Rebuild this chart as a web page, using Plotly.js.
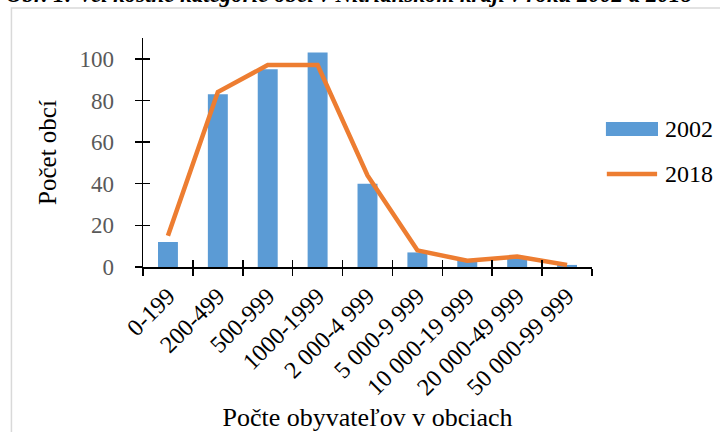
<!DOCTYPE html>
<html>
<head>
<meta charset="utf-8">
<script src="https://cdn.plot.ly/plotly-3.0.1.min.js"></script>
<style>html,body{margin:0;padding:0;background:#fff;}#chart{width:720px;height:432px;}</style>
</head>
<body>
<div id="chart"></div>
<script>
const categories = ["0-199","200-499","500-999","1000-1999","2 000-4 999","5 000-9 999","10 000-19 999","20 000-49 999","50 000-99 999"];
const values2002 = [12, 83, 95, 103, 40, 7, 3, 4, 1];
const values2018 = [15, 84, 97, 97, 44, 8, 3, 5, 1];
const seriesNames = ["2002", "2018"];
const chartTitle = "Obr. 1: Veľkostné kategórie obcí v Nitrianskom kraji v roku 2002 a 2018";
const xTitle = "Počte obyvateľov v obciach";
const yTitle = "Počet obcí";

const FONT = "Liberation Serif";
const BLUE = "#5B9BD5";
const ORANGE = "#ED7D31";

const traces = [
  {type: "bar", name: seriesNames[0], x: categories, y: values2002, marker: {color: BLUE}, width: 0.4, showlegend: false, hoverinfo: "skip"},
  {type: "scatter", mode: "lines", name: seriesNames[1], x: categories, y: values2018, line: {color: ORANGE, width: 4.5}, showlegend: false, hoverinfo: "skip"},
  {type: "scatter", mode: "none", x: categories, y: values2018, xaxis: "x2", yaxis: "y2", showlegend: false, hoverinfo: "skip"}
];

const layout = {
  width: 720, height: 432,
  margin: {l: 143, r: 128, t: 38, b: 165},
  paper_bgcolor: "#fff", plot_bgcolor: "#fff",
  font: {family: FONT, color: "#000"},
  showlegend: false,
  xaxis: {
    type: "category", categoryarray: categories, range: [-0.5, 8.5],
    tickson: "boundaries", ticks: "outside", ticklen: 7, tickwidth: 1.5, tickcolor: "#000",
    showline: true, linecolor: "#000", linewidth: 1.5, showgrid: false, zeroline: false,
    tickangle: -45, ticklabelstandoff: 4, tickfont: {family: FONT, size: 24, color: "#000"},
    title: {text: xTitle, font: {family: FONT, size: 26, color: "#000"}, standoff: 14}
  },
  yaxis: {
    range: [0, 110], dtick: 20, tick0: 0,
    ticks: "outside", ticklen: 7, tickwidth: 1.5, tickcolor: "#000",
    showline: true, linecolor: "#000", linewidth: 1.5, showgrid: false, zeroline: false,
    ticklabelstandoff: 16, tickfont: {family: FONT, size: 23, color: "#595959"},
    title: {text: yTitle, font: {family: FONT, size: 25, color: "#000"}, standoff: 15}
  },
  xaxis2: {
    type: "category", categoryarray: categories, range: [-0.5, 8.5], overlaying: "x", anchor: "y2", side: "bottom",
    tickson: "boundaries", ticks: "inside", ticklen: 7, tickwidth: 1.5, tickcolor: "#000",
    showticklabels: false, showline: false, showgrid: false, zeroline: false
  },
  yaxis2: {
    range: [0, 110], dtick: 20, tick0: 0, overlaying: "y", anchor: "x2", side: "left",
    ticks: "inside", ticklen: 7, tickwidth: 1.5, tickcolor: "#000",
    showticklabels: false, showline: false, showgrid: false, zeroline: false
  },
  shapes: [
    {type: "rect", xref: "paper", yref: "paper", x0: -0.293, x1: 1.5, y0: -1, y1: 1.131, line: {color: "#D9D9D9", width: 1.5}, fillcolor: "rgba(0,0,0,0)", layer: "below"},
    {type: "rect", xref: "paper", yref: "paper", x0: 1.031, x1: 1.147, y0: 0.572, y1: 0.633, line: {width: 0}, fillcolor: BLUE},
    {type: "line", xref: "paper", yref: "paper", x0: 1.033, x1: 1.145, y0: 0.406, y1: 0.406, line: {color: ORANGE, width: 4.5}}
  ],
  annotations: [
    {text: "<b><i>" + chartTitle + "</i></b>", xref: "paper", yref: "paper", x: -0.31, y: 1.125, xanchor: "left", yanchor: "bottom", showarrow: false, font: {family: FONT, size: 23, color: "#000"}},
    {text: seriesNames[0], xref: "paper", yref: "paper", x: 1.158, y: 0.603, xanchor: "left", yanchor: "middle", showarrow: false, font: {family: FONT, size: 24, color: "#000"}},
    {text: seriesNames[1], xref: "paper", yref: "paper", x: 1.158, y: 0.406, xanchor: "left", yanchor: "middle", showarrow: false, font: {family: FONT, size: 24, color: "#000"}}
  ]
};

Plotly.newPlot("chart", traces, layout, {staticPlot: true, displayModeBar: false});
</script>
</body>
</html>
